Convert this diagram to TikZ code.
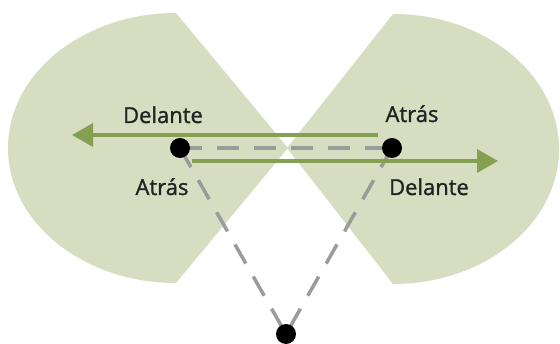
\documentclass[tikz,border=0pt]{standalone}
\usepackage{fontspec}
\setmainfont{Open Sans}
\newfontfamily\lblfont{Open Sans}[FakeBold=1.2]
\usetikzlibrary{arrows.meta}
\definecolor{zonefill}{HTML}{D6DDC0}
\definecolor{arrowgreen}{HTML}{86A052}
\definecolor{dashgray}{HTML}{9B9B9B}
\definecolor{labeltext}{HTML}{222222}
\tikzset{
  zone/.style={fill=zonefill},
  dir/.style={line width=3.5pt,arrowgreen,-{Triangle[length=21pt,width=23pt]}},
  sight/.style={line width=3.5pt,dashgray,dash pattern=on 22pt off 15pt},
  player/.style={circle,fill=black,inner sep=0pt,minimum size=20pt},
  lbl/.style={font=\lblfont\fontsize{22}{26}\selectfont,text=labeltext,anchor=base,inner sep=0pt}
}
\begin{document}
\begin{tikzpicture}[x=1pt,y=-1pt]
  \useasboundingbox (0,0) rectangle (560,344);
  \fill[zone] (176,13) arc[start angle=270,end angle=90,x radius=168,y radius=135] -- (288,148) -- cycle;
  \fill[zone] (393,14) arc[start angle=-90,end angle=90,x radius=166,y radius=135] -- (287,148) -- cycle;
  \coordinate (A) at (180,148);
  \coordinate (B) at (392,148);
  \coordinate (C) at (286,334);
  \draw[sight] (A) -- (B);
  \draw[sight] (A) -- (C);
  \draw[sight] (B) -- (C);
  \coordinate (fromB) at (378,135);
  \coordinate (tipA) at (72,135);
  \coordinate (fromA) at (192,161);
  \coordinate (tipB) at (498,161);
  \draw[dir] (fromB) -- (tipA);
  \draw[dir] (fromA) -- (tipB);
  \node[player] (pA) at (A) {};
  \node[player] (pB) at (B) {};
  \node[player] (pC) at (C) {};
  \node[lbl] (frontA) at (163,123) {Delante};
  \node[lbl] (backA) at (162,195) {Atrás};
  \node[lbl] (backB) at (412,122) {Atrás};
  \node[lbl] (frontB) at (429,195) {Delante};
\end{tikzpicture}
\end{document}
